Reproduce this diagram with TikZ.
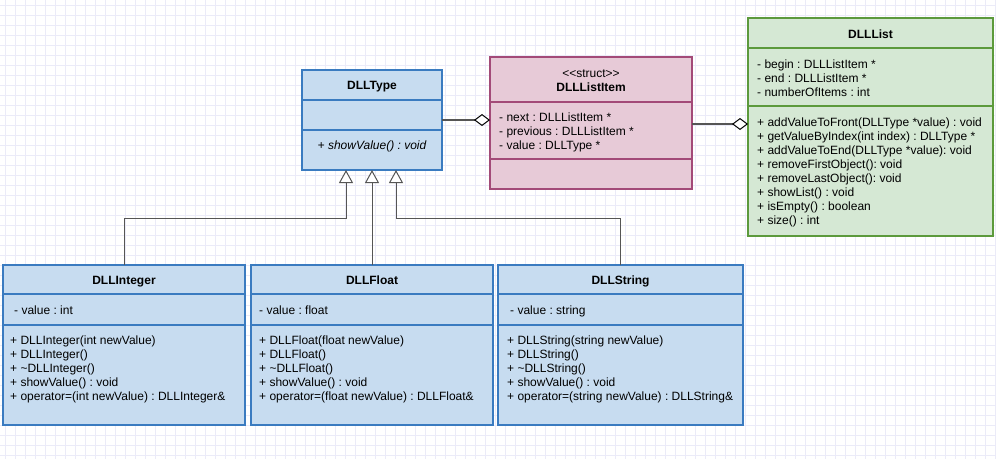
\documentclass[tikz,border=0pt]{standalone}
\usepackage{fontspec}
\setmainfont{Liberation Sans}
\usetikzlibrary{arrows.meta}
\frenchspacing
\definecolor{bluefill}{HTML}{C7DCF0}
\definecolor{bluedraw}{HTML}{3A7BC0}
\definecolor{pinkfill}{HTML}{E7CAD7}
\definecolor{pinkdraw}{HTML}{A34A78}
\definecolor{greenfill}{HTML}{D5E8D4}
\definecolor{greendraw}{HTML}{5C9A3C}
\definecolor{gridc}{HTML}{EBEBF8}
\definecolor{linec}{HTML}{555555}
\begin{document}
\begin{tikzpicture}[x=1pt,y=-1pt,
  cls/.style={draw=#1draw, fill=#1fill, line width=1.8pt, anchor=north west, inner sep=0pt, outer sep=0pt},
  divider/.style={draw=#1draw, line width=1.8pt},
  txt/.style={inner sep=0pt, anchor=base west, font=\fontsize{12}{14}\selectfont},
  ctxt/.style={txt, anchor=base},
  btxt/.style={ctxt, font=\fontsize{12}{14}\selectfont\bfseries},
  inh/.style={draw=linec, line width=1pt, -{Triangle[length=13pt, width=14pt, fill=white, line width=1pt]}},
  agg/.style={draw=linec, line width=1.2pt, -{Diamond[length=16pt, width=12pt, fill=white, line width=1pt, color=black]}}
]
\useasboundingbox (0,0) rectangle (996,459);
\fill[white] (0,0) rectangle (996,459);
\foreach \g in {5,15,...,995} \draw[gridc, line width=0.8pt] (\g,0) -- (\g,459);
\foreach \g in {5,15,...,455} \draw[gridc, line width=0.8pt] (0,\g) -- (996,\g);

% ---------- DLLType
\node[cls=blue, minimum width=140pt, minimum height=100pt] (type) at (302,70) {};
\draw[divider=blue] (type.west |- 0,100) -- (type.east |- 0,100);
\draw[divider=blue] (type.west |- 0,130) -- (type.east |- 0,130);
\node[btxt] (typeh) at (372,89) {DLLType};
\node[ctxt, font=\fontsize{12}{14}\selectfont\itshape] (typem) at (372,149) {+ showValue() : void};

% ---------- DLLListItem
\node[cls=pink, minimum width=202pt, minimum height=132pt] (item) at (490,57) {};
\draw[divider=pink] (item.west |- 0,102) -- (item.east |- 0,102);
\draw[divider=pink] (item.west |- 0,159) -- (item.east |- 0,159);
\node[ctxt] (items) at (591,77) {\textless\kern0pt\textless\kern0pt struct\kern0pt\textgreater\kern0pt\textgreater};
\node[btxt] (itemh) at (591,91) {DLLListItem};
\node[txt] (itema1) at (499,121) {- next : DLLListItem *};
\node[txt] (itema2) at (499,135) {- previous : DLLListItem *};
\node[txt] (itema3) at (499,149) {- value : DLLType *};

% ---------- DLLList
\node[cls=green, minimum width=245pt, minimum height=218pt] (list) at (748,18) {};
\draw[divider=green] (list.west |- 0,48) -- (list.east |- 0,48);
\draw[divider=green] (list.west |- 0,106) -- (list.east |- 0,106);
\node[btxt] (listh) at (870.5,38.5) {DLLList};
\foreach \t [count=\i] in {- begin : DLLListItem *, - end : DLLListItem *, - numberOfItems : int}
  \node[txt] (lista\i) at (757,{68+14*(\i-1)}) {\t};
\foreach \t [count=\i] in {+ addValueToFront(DLLType *value) : void, + getValueByIndex(int index) : DLLType *, + addValueToEnd(DLLType *value): void, + removeFirstObject(): void, + removeLastObject(): void, + showList() : void, + isEmpty() : boolean, + size() : int}
  \node[txt] (listm\i) at (757,{126.5+14*(\i-1)}) {\t};

% ---------- DLLInteger
\node[cls=blue, minimum width=242pt, minimum height=160pt] (int) at (3,265) {};
\draw[divider=blue] (int.west |- 0,294) -- (int.east |- 0,294);
\draw[divider=blue] (int.west |- 0,325) -- (int.east |- 0,325);
\node[btxt] (inth) at (124,284) {DLLInteger};
\node[txt] (inta) at (14,314) {- value : int};
\foreach \t [count=\i] in {+ DLLInteger(int newValue), + DLLInteger(), + \textasciitilde DLLInteger(), + showValue() : void, + operator=(int newValue) : DLLInteger\&}
  \node[txt] (intm\i) at (10,{344+14*(\i-1)}) {\t};

% ---------- DLLFloat
\node[cls=blue, minimum width=242pt, minimum height=160pt] (flt) at (251,265) {};
\draw[divider=blue] (flt.west |- 0,294) -- (flt.east |- 0,294);
\draw[divider=blue] (flt.west |- 0,325) -- (flt.east |- 0,325);
\node[btxt] (flth) at (372,284) {DLLFloat};
\node[txt] (flta) at (259,314) {- value : float};
\foreach \t [count=\i] in {+ DLLFloat(float newValue), + DLLFloat(), + \textasciitilde DLLFloat(), + showValue() : void, + operator=(float newValue) : DLLFloat\&}
  \node[txt] (fltm\i) at (259,{344+14*(\i-1)}) {\t};

% ---------- DLLString
\node[cls=blue, minimum width=245pt, minimum height=160pt] (str) at (498,265) {};
\draw[divider=blue] (str.west |- 0,294) -- (str.east |- 0,294);
\draw[divider=blue] (str.west |- 0,325) -- (str.east |- 0,325);
\node[btxt] (strh) at (620.5,284) {DLLString};
\node[txt] (stra) at (510,314) {- value : string};
\foreach \t [count=\i] in {+ DLLString(string newValue), + DLLString(), + \textasciitilde DLLString(), + showValue() : void, + operator=(string newValue) : DLLString\&}
  \node[txt] (strm\i) at (507,{344+14*(\i-1)}) {\t};

% ---------- connectors
\draw[inh] (int.north) -- ++(0,-47) -| ([xshift=-26pt]type.south);
\draw[inh] (flt.north) -- (type.south);
\draw[inh] (str.north) -- ++(0,-47) -| ([xshift=24pt]type.south);
\draw[agg] (type.east |- 0,120) -- (item.west |- 0,120);
\draw[agg] (item.east |- 0,124) -- (list.west |- 0,124);
\end{tikzpicture}
\end{document}
